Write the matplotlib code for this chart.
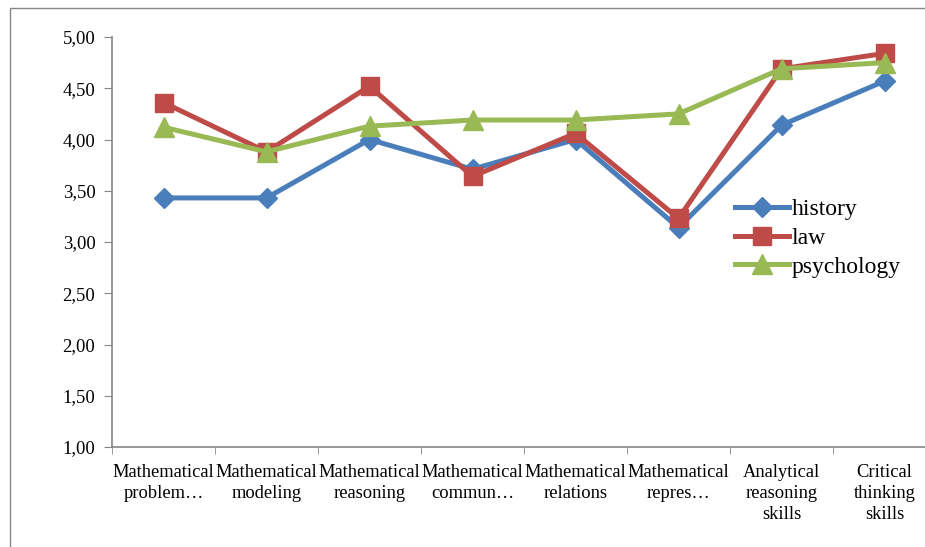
import matplotlib
matplotlib.use("Agg")
import matplotlib.pyplot as plt
from matplotlib.patches import Rectangle
from matplotlib.ticker import FixedLocator, FuncFormatter
import numpy as np

plt.rcParams["font.family"] = ["Liberation Serif", "DejaVu Serif"]

categories = [
    "Mathematical\nproblem…",
    "Mathematical\nmodeling",
    "Mathematical\nreasoning",
    "Mathematical\ncommun…",
    "Mathematical\nrelations",
    "Mathematical\nrepres…",
    "Analytical\nreasoning\nskills",
    "Critical\nthinking\nskills",
]
history = [3.43, 3.43, 4.00, 3.71, 4.00, 3.14, 4.14, 4.57]
law = [4.36, 3.88, 4.52, 3.64, 4.06, 3.23, 4.69, 4.84]
psychology = [4.12, 3.88, 4.13, 4.19, 4.19, 4.25, 4.69, 4.75]

fig = plt.figure(figsize=(9.25, 5.47), dpi=100)
# outer chart frame (cropped on the right and bottom)
fig.patches.append(Rectangle((10 / 925, -0.1), 1.2, 1 - 8 / 547 + 0.1,
                             transform=fig.transFigure, fill=False,
                             edgecolor="#868686", linewidth=1.0))

ax = fig.add_axes([112 / 925, 100 / 547, 824 / 925, 410 / 547])
x = np.arange(len(categories))

ax.plot(x, history, color="#4A7EBB", linewidth=3.6, marker="D",
        markersize=10, label="history", zorder=3)
ax.plot(x, law, color="#BE4B48", linewidth=3.6, marker="s",
        markersize=13, label="law", zorder=4)
ax.plot(x, psychology, color="#98B954", linewidth=3.6, marker="^",
        markersize=14, label="psychology", zorder=5)

ax.set_xlim(-0.5, len(categories) - 0.5)
ax.set_ylim(1.0, 5.0)
ax.set_yticks(np.arange(1.0, 5.01, 0.5))
ax.yaxis.set_major_formatter(FuncFormatter(lambda v, p: f"{v:.2f}".replace(".", ",")))

ax.set_xticks(x)
ax.set_xticklabels(categories, fontsize=13.3, linespacing=1.32)
ax.xaxis.set_minor_locator(FixedLocator(np.arange(-0.5, len(categories), 1.0)))
ax.tick_params(axis="x", which="major", length=0, pad=12)
ax.tick_params(axis="x", which="minor", length=5, color="#868686")
ax.tick_params(axis="y", length=6, color="#868686", labelsize=13.5, pad=6)

for side in ["top", "right"]:
    ax.spines[side].set_visible(False)
for side in ["left", "bottom"]:
    ax.spines[side].set_color("#868686")
    ax.spines[side].set_linewidth(1.2)

ax.legend(loc="upper left", bbox_to_anchor=(0.756, 0.605), frameon=False,
          fontsize=17, handlelength=2.3, handletextpad=0.1, labelspacing=0.3,
          borderaxespad=0, borderpad=0)

fig.savefig("out.png", dpi=100)
